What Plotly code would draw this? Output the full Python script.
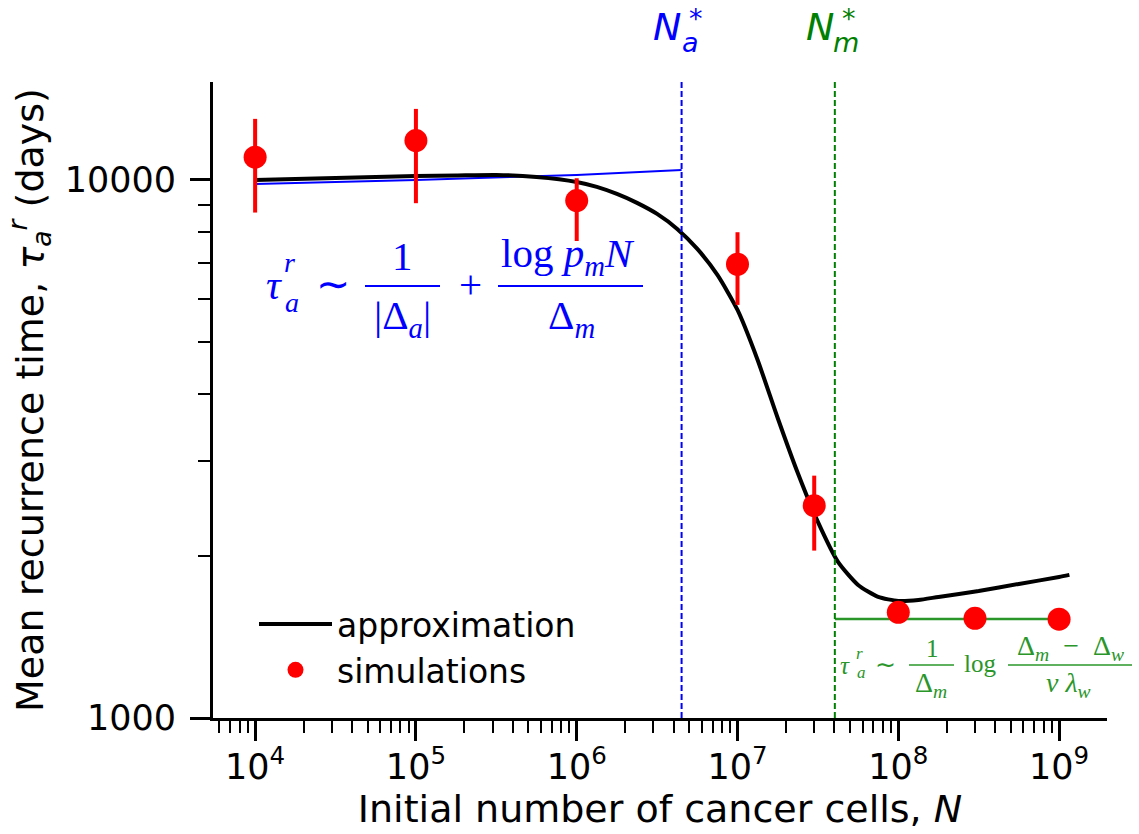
import plotly.graph_objects as go
import math

# ---------------- data ----------------
sim_N = [1e4, 1e5, 1e6, 1e7, 3e7, 1e8, 3e8, 1e9]
sim_tau = [11020, 11836, 9154, 6971, 2481, 1572, 1532, 1526]
sim_err_plus = [1966, 1716, 918, 1024, 340, 20, 20, 20]
sim_err_minus = [2323, 2784, 1454, 1113, 434, 20, 20, 20]

approx_N = [1.0e4, 1.778e4, 3.162e4, 5.623e4, 1.0e5, 1.778e5, 3.162e5, 5.623e5,
            1.0e6, 1.334e6, 1.778e6, 2.371e6, 3.162e6, 4.217e6, 5.623e6,
            7.499e6, 1.0e7, 1.334e7, 1.778e7, 2.371e7, 3.162e7, 4.217e7,
            5.623e7, 7.499e7, 1.0e8, 1.334e8, 1.778e8, 3.162e8, 5.623e8,
            1.0e9, 1.159e9]
approx_tau = [10000, 10043, 10086, 10129, 10173, 10195, 10216, 10129,
              9915, 9705, 9418, 9065, 8646, 8108, 7443,
              6660, 5732, 4628, 3611, 2853, 2314, 1950,
              1767, 1679, 1650, 1657, 1679, 1722, 1775,
              1828, 1845]

blue_N = [1e4, 1e5, 1e6, 4.49e6]
blue_tau = [9832, 10000, 10216, 10437]

green_N = [4.03e7, 1e9]
green_tau = [1528, 1528]

Na_star = 4.49e6
Nm_star = 4.03e7

x_tickvals = [1e4, 1e5, 1e6, 1e7, 1e8, 1e9]
x_ticktext = ["10<sup>4</sup>", "10<sup>5</sup>", "10<sup>6</sup>",
              "10<sup>7</sup>", "10<sup>8</sup>", "10<sup>9</sup>"]
y_tickvals = [1000, 10000]
y_ticktext = ["1000", "10000"]

# ---------------- layout helpers ----------------
W_IMG, H_IMG = 1139, 834
L, R, T, B = 213, 1107, 82, 718
PW, PH = R - L, B - T


def px(xp):
    return (xp - L) / PW


def py(yp):
    return (B - yp) / PH


x_minor = [m * 10 ** e for e in range(3, 10) for m in range(2, 10)]
x_minor = [v for v in x_minor if 3.738 < math.log10(v) < 9.298]
y_minor = [m * 1000 for m in range(2, 10)]

BLUE = "#0000ff"
GREEN = "#008000"
GREEN2 = "#2a962a"
SERIF = "Liberation Serif"
SANS = "DejaVu Sans"

fig = go.Figure()

fig.add_trace(go.Scatter(
    x=blue_N, y=blue_tau, mode="lines", line=dict(color=BLUE, width=2),
    showlegend=False, hoverinfo="skip"))
fig.add_trace(go.Scatter(
    x=green_N, y=green_tau, mode="lines", line=dict(color=GREEN2, width=2.5),
    showlegend=False, hoverinfo="skip"))
fig.add_trace(go.Scatter(
    x=approx_N, y=approx_tau, mode="lines", name="approximation",
    line=dict(color="black", width=4, shape="spline", smoothing=0.6)))
fig.add_trace(go.Scatter(
    x=sim_N, y=sim_tau, mode="markers", name="simulations",
    marker=dict(color="#ff0000", size=23),
    error_y=dict(type="data", symmetric=False, array=sim_err_plus,
                 arrayminus=sim_err_minus, color="#ff0000", thickness=4,
                 width=0)))

shapes = []
for xv, col in [(Na_star, BLUE), (Nm_star, GREEN)]:
    shapes.append(dict(type="line", xref="x", yref="paper", x0=xv, x1=xv,
                       y0=0, y1=1, line=dict(color=col, width=2,
                                             dash="6px,3px")))


def bar(x0, x1, y, col, w=2):
    shapes.append(dict(type="line", xref="paper", yref="paper",
                       x0=px(x0), x1=px(x1), y0=py(y), y1=py(y),
                       line=dict(color=col, width=w)))


annotations = []


def txt(s, x, y, size, col, family=SERIF, xanchor="center"):
    annotations.append(dict(text=s, x=px(x), y=py(y), xref="paper",
                            yref="paper", showarrow=False,
                            xanchor=xanchor, yanchor="middle",
                            font=dict(size=size, color=col, family=family)))


# N* labels
txt("<i>N</i>", 667, 27, 38, BLUE, SANS)
txt("<i>a</i>", 690, 42, 27, BLUE, SANS)
txt("*", 696, 18, 27, BLUE, SANS)
txt("<i>N</i>", 820, 27, 38, GREEN, SANS)
txt("<i>m</i>", 846, 42, 27, GREEN, SANS)
txt("*", 849, 18, 27, GREEN, SANS)

# blue formula
fs = 41
txt("<i>τ</i>", 274, 285, fs, BLUE)
txt("<i>r</i>", 289, 262, 28, BLUE)
txt("<i>a</i>", 292, 302, 28, BLUE)
txt("∼", 333, 284, fs, BLUE)
txt("1", 402, 256, fs, BLUE)
bar(365, 440, 286, BLUE)
txt("|Δ<sub><i>a</i></sub>|", 402, 318, fs, BLUE)
txt("+", 470, 284, fs, BLUE)
txt("log <i>p</i><sub><i>m</i></sub><i>N</i>", 568, 256, fs, BLUE)
bar(498, 643, 286, BLUE)
txt("Δ<sub><i>m</i></sub>", 571, 318, fs, BLUE)

# green formula
gs = 25
txt("<i>τ</i>", 845, 665, gs, GREEN2)
txt("<i>r</i>", 859, 653, 17, GREEN2)
txt("<i>a</i>", 861, 672, 17, GREEN2)
txt("∼", 885, 664, gs, GREEN2)
txt("1", 932, 648, gs, GREEN2)
bar(909, 954, 665, GREEN2, 1.5)
txt("Δ<sub><i>m</i></sub>", 931, 684, 28, GREEN2)
txt("log", 980, 663, gs, GREEN2)
txt("Δ<sub><i>m</i></sub>  −  Δ<sub><i>w</i></sub>", 1070, 647, 28, GREEN2)
bar(1008, 1132, 665, GREEN2, 1.5)
txt("<i>v λ</i><sub><i>w</i></sub>", 1068, 684, 28, GREEN2)

fig.update_layout(
    width=W_IMG, height=H_IMG,
    margin=dict(l=L, r=W_IMG - R, t=T, b=H_IMG - B, autoexpand=False),
    paper_bgcolor="white", plot_bgcolor="white",
    font=dict(family=SANS, color="black", size=35),
    shapes=shapes, annotations=annotations,
    legend=dict(x=px(254), y=py(596), xanchor="left", yanchor="top",
                bgcolor="rgba(0,0,0,0)", font=dict(size=33, family=SANS),
                itemwidth=73, tracegroupgap=0),
    xaxis=dict(
        type="log", range=[3.738, 9.298], showgrid=False, zeroline=False,
        showline=True, linecolor="black", linewidth=3, mirror=False,
        ticks="outside", ticklen=20, tickwidth=2.5, tickcolor="black",
        tickmode="array", tickvals=x_tickvals, ticktext=x_ticktext,
        tickfont=dict(size=35, family=SANS), ticklabelstandoff=-4,
        minor=dict(tickmode="array", tickvals=x_minor, ticks="outside",
                   ticklen=12, tickwidth=2, tickcolor="black",
                   showgrid=False),
        title=dict(text="Initial number of cancer cells, <i>N</i>",
                   font=dict(size=38, family=SANS), standoff=6),
        automargin=False),
    yaxis=dict(
        type="log", range=[3.0, 4.182], showgrid=False, zeroline=False,
        showline=True, linecolor="black", linewidth=3, mirror=False,
        ticks="outside", ticklen=20, tickwidth=2.5, tickcolor="black",
        tickmode="array", tickvals=y_tickvals, ticktext=y_ticktext,
        tickfont=dict(size=35, family=SANS), ticklabelstandoff=7,
        minor=dict(tickmode="array", tickvals=y_minor, ticks="outside",
                   ticklen=12, tickwidth=2, tickcolor="black",
                   showgrid=False),
        title=dict(text="Mean recurrence time, <i>τ</i><sub><i>a</i></sub>"
                        "<sup><i>r</i></sup> (days)",
                   font=dict(size=38, family=SANS), standoff=10),
        automargin=False),
)

fig.write_html("out.html")
